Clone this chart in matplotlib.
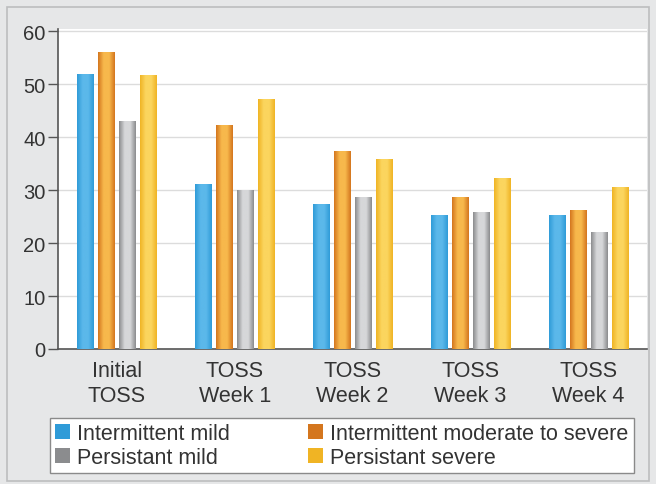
import numpy as np
import matplotlib
matplotlib.use("Agg")
import matplotlib.pyplot as plt
from matplotlib.colors import LinearSegmentedColormap
from matplotlib.patches import Rectangle

plt.rcParams['font.family'] = ['Liberation Sans', 'DejaVu Sans']

# data
categories = ['Initial\nTOSS', 'TOSS\nWeek 1', 'TOSS\nWeek 2', 'TOSS\nWeek 3', 'TOSS\nWeek 4']
series_names = ['Intermittent mild', 'Intermittent moderate to severe',
                'Persistant mild', 'Persistant severe']
intermittent_mild = [52.0, 31.2, 27.4, 25.3, 25.3]
intermittent_mod_severe = [56.0, 42.2, 37.4, 28.7, 26.2]
persistant_mild = [43.0, 30.1, 28.6, 25.8, 22.1]
persistant_severe = [51.7, 47.2, 35.9, 32.2, 30.5]
all_series = [intermittent_mild, intermittent_mod_severe, persistant_mild, persistant_severe]

# (edge colour, centre colour) for the cylinder-like shading
shades = [('#2f9bd8', '#5bb8ea'),
          ('#d4761e', '#f7b84c'),
          ('#8b8c8e', '#d6d7d9'),
          ('#f0b424', '#fbd55e')]

bg = '#e6e7e8'
txt = '#333333'

fig = plt.figure(figsize=(6.56, 4.85), dpi=100, facecolor=bg)
# outer frame
fig.patches.append(Rectangle((7/656, 3/485), 642/656, 474/485, transform=fig.transFigure,
                             fill=False, edgecolor='#bcbdbf', lw=1.2))

ax = fig.add_axes([58/656, 1 - 350/485, 589/656, 320/485])
ax.set_facecolor('white')

x = np.arange(len(categories))
width = 0.136
step = 0.178
offsets = (np.arange(4) - 1.5) * step

handles = []
for i, vals in enumerate(all_series):
    bars = ax.bar(x + offsets[i], vals, width, color=shades[i][0], zorder=3, label=series_names[i])
    handles.append(bars)
    cmap = LinearSegmentedColormap.from_list('s%d' % i, [shades[i][0], shades[i][1], shades[i][1], shades[i][0]])
    grad = np.linspace(0, 1, 64).reshape(1, -1)
    for b in bars:
        x0, y0 = b.get_x(), b.get_y()
        im = ax.imshow(grad, cmap=cmap, aspect='auto', zorder=4,
                       extent=(x0, x0 + b.get_width(), y0, y0 + b.get_height()))
        im.set_clip_path(b)

ax.set_xlim(-0.5, 4.5)
ax.set_ylim(0, 60.4)
ax.set_yticks(np.arange(0, 61, 10))
ax.set_xticks(x)
ax.set_xticklabels(categories, fontsize=15.5, color=txt, linespacing=1.22)
ax.tick_params(axis='y', labelsize=14.5, colors=txt, length=7, width=1, color='#555555', pad=2)
ax.tick_params(axis='x', length=0, pad=8)
ax.grid(axis='y', color='#dcdcdc', lw=1, zorder=0)
for s in ['top', 'right']:
    ax.spines[s].set_visible(False)
for s in ['left', 'bottom']:
    ax.spines[s].set_color('#555555')
    ax.spines[s].set_linewidth(1.2)

# legend fills row by row: reorder for matplotlib's column-first filling
order = [0, 2, 1, 3]
leg = fig.legend([handles[k] for k in order], [series_names[k] for k in order],
                 ncol=2, loc='lower left', bbox_to_anchor=(50/656, 1 - 474/485),
                 fontsize=15.5, frameon=True, fancybox=False, edgecolor='#8a8a8a',
                 framealpha=1, facecolor='white',
                 handlelength=0.7, handleheight=0.7, handletextpad=0.3,
                 columnspacing=3.65, labelspacing=0.12, borderpad=0.25,
                 borderaxespad=0, labelcolor=txt)
leg.get_frame().set_linewidth(1.0)

fig.savefig('out.png', dpi=100, facecolor=bg)
